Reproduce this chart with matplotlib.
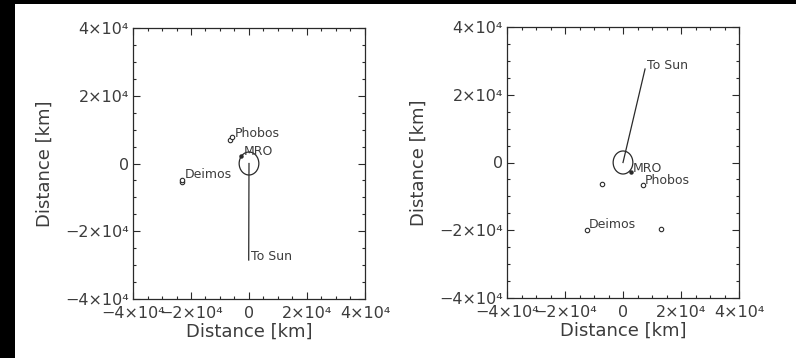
import numpy as np
import matplotlib
matplotlib.use('Agg')
import matplotlib.pyplot as plt
from matplotlib.patches import Circle, Rectangle
from matplotlib.ticker import MultipleLocator, FixedFormatter, FixedLocator

# Mars-centred view, km; two epochs, one per panel
mars_radius = 3396.0

# left panel
sun_a = (-100, -28500)
mro_a = (-2600, 2200)
phobos_a_x = [-6400, -5700]
phobos_a_y = [6900, 7700]
deimos_a_x = [-23000, -23000]
deimos_a_y = [-5600, -4900]

# right panel
sun_b = (7600, 27600)
mro_b = (2650, -2900)
phobos_b_x = [-7100, 6900]
phobos_b_y = [-6340, -6640]
deimos_b_x = [-12500, 13000]
deimos_b_y = [-19900, -19700]

tick_vals = [-4e4, -2e4, 0, 2e4, 4e4]
tick_labels = ['\u22124\u00d710\u2074', '\u22122\u00d710\u2074', '0',
               '2\u00d710\u2074', '4\u00d710\u2074']

ink = '#2a2a2a'
txt = '#3c3c3c'
plt.rcParams['font.family'] = ['DejaVu Sans']

fig = plt.figure(figsize=(7.96, 3.58), dpi=100, facecolor='black')
fig.patches.append(Rectangle((15 / 796, 0), 1, (358 - 4) / 358,
                             transform=fig.transFigure, facecolor='white',
                             edgecolor='none', zorder=-10))

ax_a = fig.add_axes([133 / 796, 59 / 358, 232 / 796, 271 / 358])
ax_b = fig.add_axes([507 / 796, 60 / 358, 232 / 796, 271 / 358])


def draw_panel(ax, sun, mro, phx, phy, dex, dey, ph_lab, de_lab):
    ax.set_xlim(-4e4, 4e4)
    ax.set_ylim(-4e4, 4e4)
    ax.add_patch(Circle((0, 0), mars_radius, fill=False, edgecolor=ink, lw=0.9))
    ax.plot([0, sun[0]], [0, sun[1]], color=ink, lw=0.9)
    ax.annotate('To Sun', sun, xytext=(1.5, 0), textcoords='offset points',
                fontsize=9, color=txt, va='baseline')
    ax.plot([mro[0]], [mro[1]], 'o', ms=2.2, color=ink)
    ax.annotate('MRO', mro, xytext=(1.5, 0.5), textcoords='offset points',
                fontsize=9, color=txt, va='baseline')
    ax.plot(phx, phy, 'o', ms=3.2, mfc='white', mec=ink, mew=0.8, ls='none')
    ax.plot(dex, dey, 'o', ms=3.2, mfc='white', mec=ink, mew=0.8, ls='none')
    ax.annotate('Phobos', (phx[ph_lab], phy[ph_lab]), xytext=(1.5, 0.5),
                textcoords='offset points', fontsize=9, color=txt, va='baseline')
    ax.annotate('Deimos', (dex[de_lab], dey[de_lab]), xytext=(1.5, 1.5),
                textcoords='offset points', fontsize=9, color=txt, va='baseline')

    for axis in (ax.xaxis, ax.yaxis):
        axis.set_major_locator(FixedLocator(tick_vals))
        axis.set_major_formatter(FixedFormatter(tick_labels))
        axis.set_minor_locator(MultipleLocator(5000))
    ax.tick_params(which='both', direction='in', top=True, right=True,
                   color=ink, width=0.8, labelsize=11.5, labelcolor=txt)
    ax.tick_params(which='major', length=5)
    ax.tick_params(axis='x', which='major', pad=5)
    ax.tick_params(axis='y', which='major', pad=3)
    ax.tick_params(which='minor', length=2.5)
    for s in ax.spines.values():
        s.set_color(ink)
        s.set_linewidth(0.9)
    ax.set_xlabel('Distance [km]', fontsize=13, color=txt, labelpad=1)
    ax.set_ylabel('Distance [km]', fontsize=13, color=txt, labelpad=8)


draw_panel(ax_a, sun_a, mro_a, phobos_a_x, phobos_a_y, deimos_a_x, deimos_a_y, 1, 1)
draw_panel(ax_b, sun_b, mro_b, phobos_b_x, phobos_b_y, deimos_b_x, deimos_b_y, 1, 0)

fig.savefig('out.png', dpi=100, facecolor=fig.get_facecolor())
